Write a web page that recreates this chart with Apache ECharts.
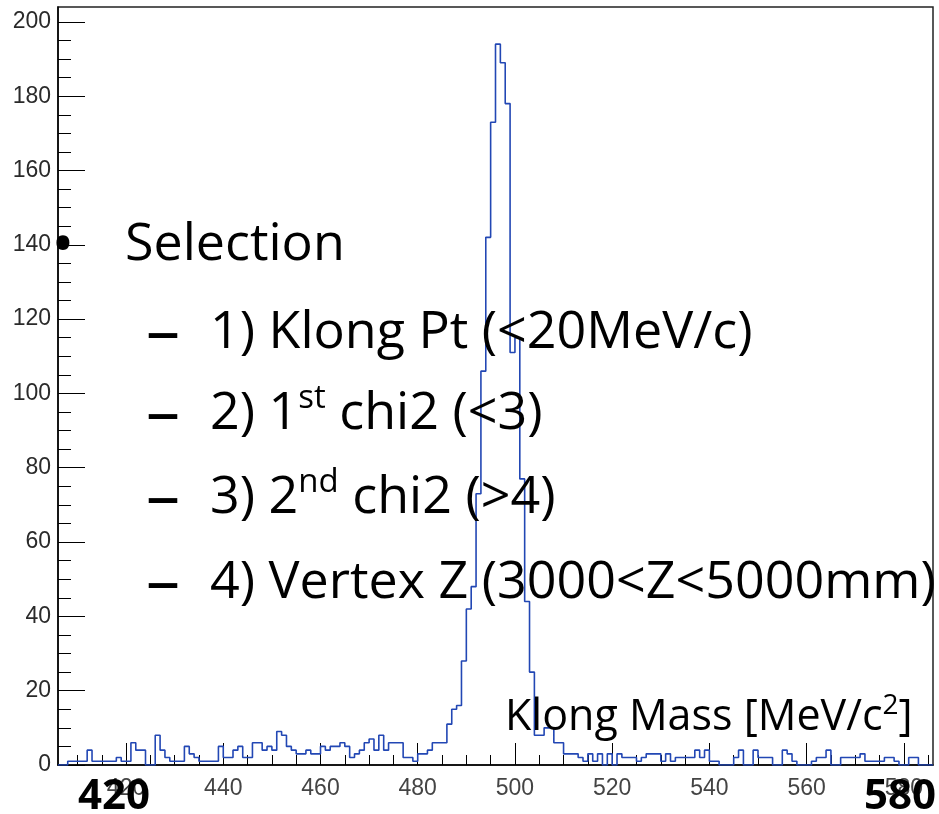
<!DOCTYPE html>
<html>
<head>
<meta charset="utf-8">
<script src="https://cdn.jsdelivr.net/npm/echarts@6/dist/echarts.min.js"></script>
<style>
  html, body { margin: 0; padding: 0; background: #ffffff; }
  #main { width: 939px; height: 814px; }
</style>
</head>
<body>
<div id="main"></div>
<script>
// Klong invariant-mass histogram: 1 MeV bins from 406 to 586 MeV/c^2
const binLow = 406;
const binWidth = 1;
const counts = [
  0, 0, 1, 1, 1, 1, 4, 1, 1, 1,
  1, 1, 2, 1, 1, 6, 4, 4, 0, 0,
  8, 4, 2, 1, 1, 1, 5, 3, 2, 1,
  1, 1, 1, 5, 2, 2, 4, 5, 2, 2,
  6, 6, 4, 5, 4, 9, 8, 5, 4, 3,
  3, 4, 3, 3, 5, 4, 5, 5, 6, 5,
  2, 3, 4, 6, 7, 4, 8, 4, 6, 6,
  6, 2, 2, 1, 3, 3, 4, 6, 6, 6,
  11, 15, 16, 28, 42, 48, 73, 106, 142, 173,
  194, 189, 178, 111, 115, 77, 44, 25, 8, 8,
  10, 10, 6, 6, 3, 3, 3, 2, 1, 3,
  1, 3, 0, 3, 0, 3, 2, 2, 2, 1,
  2, 3, 3, 3, 1, 3, 1, 2, 2, 2,
  2, 4, 2, 4, 1, 1, 0, 0, 0, 2,
  4, 0, 0, 4, 2, 2, 2, 0, 0, 4,
  3, 1, 0, 0, 0, 1, 2, 2, 4, 0,
  0, 2, 2, 2, 2, 3, 1, 1, 1, 1,
  2, 2, 1, 0, 0, 2, 2, 0, 0, 0
];

const xMajorTicks = [420, 440, 460, 480, 500, 520, 540, 560, 580];
const yMajorTicks = [0, 20, 40, 60, 80, 100, 120, 140, 160, 180, 200];
const xMin = 406, xMax = 586;
const yMin = 0, yMax = 204;

// minor ticks every 5 units between the labelled ones
const xMinorTicks = [];
for (let v = 410; v <= 585; v += 5) if (v % 20 !== 0) xMinorTicks.push(v);
const yMinorTicks = [];
for (let v = 5; v <= 200; v += 5) if (v % 20 !== 0) yMinorTicks.push(v);

// step outline: each bin's low edge, plus the closing upper edge
const outline = counts.map((c, i) => [binLow + i * binWidth, c]);
outline.push([binLow + counts.length * binWidth, counts[counts.length - 1]]);

const tickFont = 'Liberation Sans';
const slideFont = '"Open Sans"';

const chart = echarts.init(document.getElementById('main'), null, { renderer: 'canvas' });

const txt = (x, y, text, size, extra) => ({
  type: 'text',
  z: 100,
  style: Object.assign({
    x: x, y: y, text: text,
    font: size + 'px ' + slideFont,
    fill: '#000',
    align: 'left', verticalAlign: 'middle',
    textAlign: 'left', textVerticalAlign: 'middle'
  }, extra || {})
});

const rowSize = 52;
const dashSize = 68;
const supStyle = {
  n: { fontFamily: 'Open Sans', fontSize: rowSize, lineHeight: 64, fill: '#000' },
  s: { fontFamily: 'Open Sans', fontSize: 33, lineHeight: 42, verticalAlign: 'top', fill: '#000' }
};

chart.setOption({
  animation: false,
  backgroundColor: '#ffffff',
  grid: {
    left: 58, top: 7, right: 6, bottom: 49,
    show: true, borderColor: '#222', borderWidth: 1.5, backgroundColor: 'transparent'
  },
  xAxis: [
    {
      type: 'value', min: xMin, max: xMax, position: 'bottom',
      axisLine: { show: true, onZero: false, lineStyle: { color: '#000', width: 1.5 } },
      axisTick: { show: true, inside: true, length: 22, customValues: xMajorTicks, lineStyle: { color: '#000', width: 1 } },
      axisLabel: { show: true, customValues: xMajorTicks, fontFamily: tickFont, fontSize: 23, color: '#444', margin: 12 },
      splitLine: { show: false }
    },
    {
      type: 'value', min: xMin, max: xMax, position: 'bottom',
      axisLine: { show: false },
      axisTick: { show: true, inside: true, length: 10, customValues: xMinorTicks, lineStyle: { color: '#000', width: 1 } },
      axisLabel: { show: false },
      splitLine: { show: false }
    }
  ],
  yAxis: [
    {
      type: 'value', min: yMin, max: yMax, position: 'left',
      axisLine: { show: true, onZero: false, lineStyle: { color: '#000', width: 1.5 } },
      axisTick: { show: true, inside: true, length: 27, customValues: yMajorTicks, lineStyle: { color: '#000', width: 1 } },
      axisLabel: { show: true, customValues: yMajorTicks, fontFamily: tickFont, fontSize: 23, color: '#2a2a2a', margin: 7 },
      splitLine: { show: false }
    },
    {
      type: 'value', min: yMin, max: yMax, position: 'left',
      axisLine: { show: false },
      axisTick: { show: true, inside: true, length: 13, customValues: yMinorTicks, lineStyle: { color: '#000', width: 1 } },
      axisLabel: { show: false },
      splitLine: { show: false }
    }
  ],
  series: [
    {
      type: 'line',
      xAxisIndex: 0, yAxisIndex: 0,
      data: outline,
      step: 'end',
      symbol: 'none',
      lineStyle: { color: '#2247b4', width: 1.6 },
      clip: true,
      z: 5
    }
  ],
  graphic: [
    txt(63, 247, '•', 62, { align: 'center', textAlign: 'center' }),
    txt(125, 245, 'Selection', 52),
    txt(146, 335, '–', dashSize),
    txt(210, 333, '1) Klong Pt (<20MeV/c)', rowSize),
    txt(146, 416, '–', dashSize),
    {
      type: 'text', z: 100,
      style: {
        x: 210, y: 414, text: '{n|2) 1}{s|st}{n| chi2 (<3)}', rich: supStyle,
        font: rowSize + 'px ' + slideFont, fill: '#000',
        align: 'left', verticalAlign: 'middle', textAlign: 'left', textVerticalAlign: 'middle'
      }
    },
    txt(146, 500, '–', dashSize),
    {
      type: 'text', z: 100,
      style: {
        x: 210, y: 498, text: '{n|3) 2}{s|nd}{n| chi2 (>4)}', rich: supStyle,
        font: rowSize + 'px ' + slideFont, fill: '#000',
        align: 'left', verticalAlign: 'middle', textAlign: 'left', textVerticalAlign: 'middle'
      }
    },
    txt(146, 585, '–', dashSize),
    txt(210, 583, '4) Vertex Z (3000<Z<5000mm)', rowSize),
    {
      type: 'text', z: 100,
      style: {
        x: 505, y: 718, text: '{n|Klong Mass [MeV/c}{s|2}{n|]}',
        rich: {
          n: { fontFamily: 'Open Sans', fontSize: 43, lineHeight: 52, fill: '#000' },
          s: { fontFamily: 'Open Sans', fontSize: 28, lineHeight: 32, verticalAlign: 'top', fill: '#000' }
        },
        font: '43px ' + slideFont, fill: '#000',
        align: 'left', verticalAlign: 'middle', textAlign: 'left', textVerticalAlign: 'middle'
      }
    },
    txt(114, 797, '420', 42, { font: 'bold 42px ' + slideFont, align: 'center', textAlign: 'center' }),
    txt(900, 797, '580', 42, { font: 'bold 42px ' + slideFont, align: 'center', textAlign: 'center' })
  ]
});
</script>
</body>
</html>
